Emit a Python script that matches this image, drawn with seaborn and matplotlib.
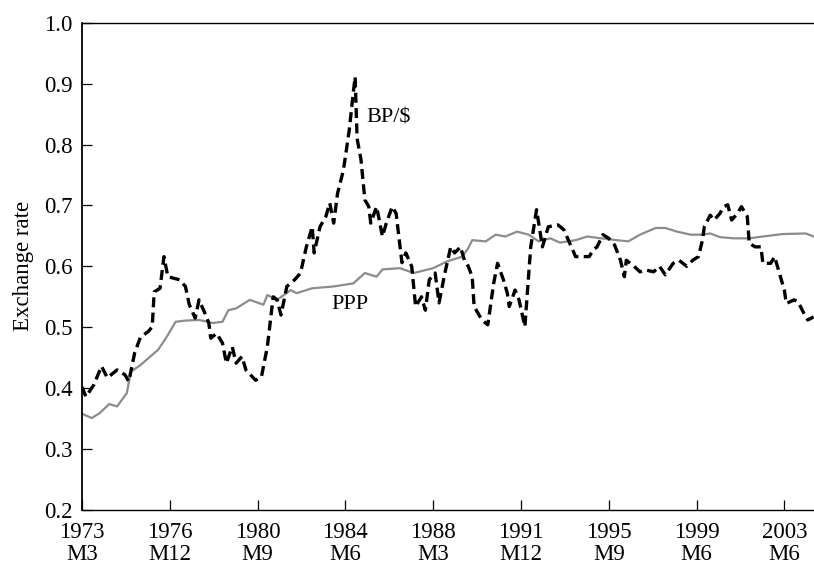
import matplotlib
matplotlib.use("Agg")
import matplotlib.pyplot as plt
import pandas as pd
import seaborn as sns

# months counted from 1973M3
bp_months = [0, 2, 6, 10, 13, 18, 22, 24, 27, 30, 34, 36, 37, 40, 42, 44, 50, 53, 55, 58,
             60, 63, 65, 66, 69, 72, 74, 77, 79, 82, 84, 89, 92, 95, 98, 100, 102, 105, 109, 112,
             115, 118, 119, 122, 125, 127, 129, 131, 134, 137, 139, 140, 141, 143, 145, 147, 148, 151, 154, 156,
             159, 161, 164, 166, 169, 171, 174, 176, 178, 181, 183, 186, 189, 191, 194, 196, 198, 200, 201, 205,
             208, 211, 213, 216, 218, 219, 222, 224, 227, 230, 233, 236, 239, 244, 247, 250, 253, 257, 260, 262,
             264, 267, 270, 273, 276, 278, 279, 283, 286, 289, 293, 296, 299, 303, 306, 310, 313, 316, 318, 319,
             322, 324, 327, 329, 331, 333, 336, 338, 341, 342, 345, 348, 349, 353, 355, 357, 360, 361, 365, 367,
             370, 372, 375]
bp_values = [0.402, 0.386, 0.405, 0.436, 0.417, 0.430, 0.422, 0.411, 0.458, 0.484, 0.493, 0.501, 0.558, 0.564, 0.616, 0.583, 0.578, 0.567, 0.537, 0.515,
             0.545, 0.523, 0.507, 0.482, 0.490, 0.474, 0.441, 0.468, 0.441, 0.452, 0.430, 0.413, 0.419, 0.468, 0.550, 0.545, 0.520, 0.567, 0.578, 0.589,
             0.632, 0.665, 0.622, 0.665, 0.682, 0.704, 0.671, 0.720, 0.758, 0.824, 0.884, 0.911, 0.810, 0.775, 0.709, 0.698, 0.671, 0.698, 0.649, 0.671,
             0.698, 0.687, 0.606, 0.622, 0.600, 0.534, 0.550, 0.528, 0.578, 0.589, 0.540, 0.589, 0.632, 0.622, 0.632, 0.610, 0.600, 0.583, 0.534, 0.512,
             0.504, 0.572, 0.605, 0.578, 0.556, 0.534, 0.561, 0.545, 0.501, 0.632, 0.693, 0.632, 0.665, 0.668, 0.660, 0.638, 0.616, 0.616, 0.616, 0.627,
             0.632, 0.652, 0.646, 0.635, 0.610, 0.583, 0.610, 0.600, 0.591, 0.594, 0.591, 0.600, 0.586, 0.605, 0.610, 0.600, 0.610, 0.616, 0.643, 0.665,
             0.684, 0.676, 0.687, 0.698, 0.701, 0.676, 0.687, 0.698, 0.682, 0.638, 0.632, 0.632, 0.605, 0.605, 0.616, 0.594, 0.561, 0.539, 0.545, 0.542,
             0.523, 0.512, 0.517]

ppp_months = [0, 5, 9, 14, 18, 23, 25, 30, 35, 39, 43, 48, 53, 60, 67, 72, 75, 79, 86, 93,
              95, 100, 107, 110, 118, 129, 139, 145, 151, 154, 163, 170, 180, 187, 195, 198, 200, 207, 212, 217,
              223, 229, 234, 240, 245, 253, 259, 266, 274, 280, 286, 294, 299, 305, 312, 318, 322, 327, 334, 342,
              349, 359, 371, 375]
ppp_values = [0.358, 0.351, 0.359, 0.374, 0.370, 0.392, 0.427, 0.438, 0.452, 0.463, 0.482, 0.509, 0.511, 0.512, 0.507, 0.509, 0.528, 0.531, 0.545, 0.537,
              0.553, 0.545, 0.561, 0.556, 0.564, 0.567, 0.572, 0.589, 0.583, 0.595, 0.597, 0.589, 0.597, 0.608, 0.616, 0.630, 0.643, 0.641, 0.652, 0.649,
              0.657, 0.652, 0.641, 0.646, 0.639, 0.643, 0.649, 0.646, 0.643, 0.641, 0.652, 0.663, 0.663, 0.657, 0.652, 0.652, 0.654, 0.648, 0.646, 0.646,
              0.649, 0.653, 0.654, 0.649]

tick_months = [0, 45, 90, 135, 180, 225, 270, 315, 360]
tick_labels = ["1973\nM3", "1976\nM12", "1980\nM9", "1984\nM6", "1988\nM3",
               "1991\nM12", "1995\nM9", "1999\nM6", "2003\nM6"]
y_ticks = [0.2, 0.3, 0.4, 0.5, 0.6, 0.7, 0.8, 0.9, 1.0]

sns.set_theme(style="white")
plt.rcParams["font.family"] = ["Liberation Serif", "DejaVu Serif"]

bp = pd.DataFrame({"month": bp_months, "rate": bp_values})
ppp = pd.DataFrame({"month": ppp_months, "rate": ppp_values})

fig = plt.figure(figsize=(8.14, 5.69), dpi=100)
ax = fig.add_axes([82 / 814, 1 - 510 / 569, 1 - 82 / 814, (510 - 22.7) / 569])

sns.lineplot(data=ppp, x="month", y="rate", ax=ax, color="#8c8c8c", linewidth=1.6,
             estimator=None, sort=False)
sns.lineplot(data=bp, x="month", y="rate", ax=ax, color="black", linewidth=2.4,
             estimator=None, sort=False)
ax.lines[-1].set_dashes([3, 1.6])

ax.set_xlim(0, 375.2)
ax.set_ylim(0.2, 1.0)
ax.set_xticks(tick_months)
ax.set_xticklabels(tick_labels, fontsize=16.5, linespacing=1.0)
ax.set_yticks(y_ticks)
ax.set_yticklabels([f"{v:.1f}" for v in y_ticks], fontsize=16.5)
ax.tick_params(axis="both", direction="in", length=7, width=0.9, colors="black",
               labelcolor="black", pad=7)
ax.tick_params(axis="x", bottom=True, top=False, pad=9)
ax.tick_params(axis="y", left=True, right=False)

ax.set_xlabel("")
ax.set_ylabel("Exchange rate", fontsize=16.5, color="black", labelpad=7)

for side in ["left", "bottom", "top"]:
    ax.spines[side].set_color("black")
ax.spines["left"].set_linewidth(1.3)
ax.spines["bottom"].set_linewidth(1.0)
ax.spines["top"].set_linewidth(1.0)
ax.spines["right"].set_visible(False)

ax.text(146, 0.844, r"BP/\$", fontsize=16, ha="left", va="center", color="black")
ax.text(128, 0.537, "PPP", fontsize=16, ha="left", va="center", color="black")

fig.savefig("out.png", dpi=100)
plt.close(fig)
